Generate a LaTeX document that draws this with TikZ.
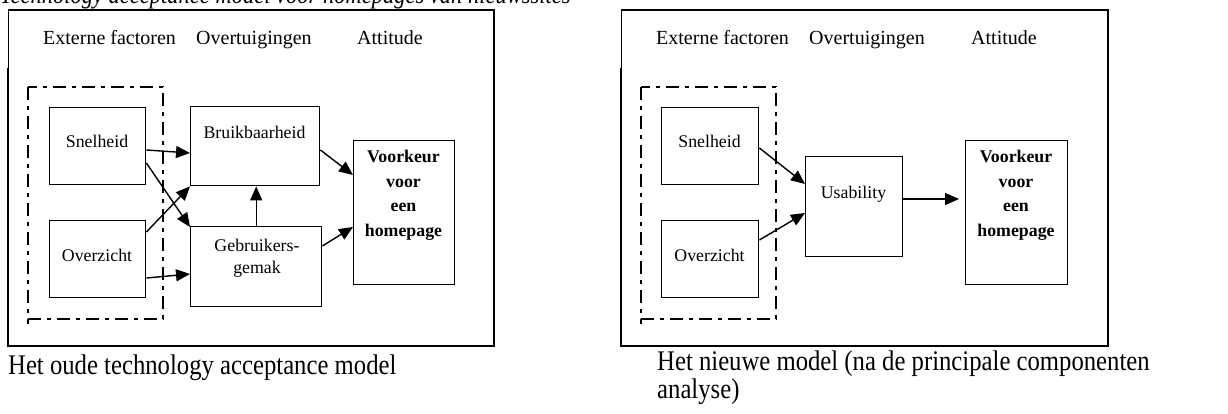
\documentclass[tikz,border=0pt]{standalone}
\usepackage{fontspec}
\setmainfont{Liberation Serif}
\usetikzlibrary{arrows.meta}
\newcommand{\tallcap}[1]{\scalebox{1}[1.15]{#1}}
\tikzset{
  panel/.style={draw, line width=2.4pt},
  dashbox/.style={draw, line width=1.4pt, dash pattern=on 13pt off 6pt on 4pt off 6pt},
  box/.style={draw, line width=1.4pt, rectangle, inner sep=0pt, anchor=north west},
  hdr/.style={anchor=base west, inner sep=0pt, font=\fontsize{20}{24}\selectfont},
  txt/.style={anchor=base, inner sep=0pt, font=\fontsize{17.8}{22}\selectfont},
  btxt/.style={anchor=north, inner sep=0pt, align=center, font=\fontsize{17.8}{24.5}\selectfont\bfseries},
  captxt/.style={anchor=base west, inner sep=0pt, font=\fontsize{24.7}{28}\selectfont},
  arr/.style={line width=1.4pt, -{Triangle[length=14pt,width=12pt]}},
}
\begin{document}
\begin{tikzpicture}[x=1pt,y=-1pt]
\useasboundingbox (0,0) rectangle (1228,414);
\clip (0,0) rectangle (1228,414);
% title (cut off at top)
\node[anchor=base west, inner sep=0pt, font=\fontsize{22.5}{26}\selectfont\itshape] (title) at (0,3.5) {\tallcap{Technology acceptance model voor homepages van nieuwssites}};

% ---------- left panel ----------
\draw[panel] (8,68) -- (8,346) -- (494,346) -- (494,10) -- (8,10);
\draw[line width=1pt] (8,10) -- (8,68);
\node[hdr] (h1) at (43,45) {Externe factoren};
\node[hdr] (h2) at (196,45) {Overtuigingen};
\node[hdr] (h3) at (357,45) {Attitude};
\draw[dashbox] (28,87) rectangle (163,319);
\draw[line width=1.4pt] (28,319) -- (28,324);

\node[box, minimum width=96pt, minimum height=77pt] (sn) at (49,107) {};
\node[box, minimum width=96pt, minimum height=77pt] (ov) at (49,220) {};
\node[box, minimum width=129pt, minimum height=79pt] (br) at (190,106) {};
\node[box, minimum width=131pt, minimum height=80pt] (ge) at (190,226) {};
\node[box, minimum width=101pt, minimum height=144pt] (vk) at (353,140) {};

\node[txt] (snt) at (97,148) {Snelheid};
\node[txt] (ovt) at (97,261) {Overzicht};
\node[txt] (brt) at (254.5,139) {Bruikbaarheid};
\node[txt] (get1) at (257,251) {Gebruikers-};
\node[txt] (get2) at (257,273) {gemak};
\node[btxt] (vkt) at (403.5,150) {Voorkeur\\voor\\een\\homepage};

\draw[arr] ([yshift=-43pt]sn.north east) -- ([yshift=-47pt]br.north west);
\draw[arr] ([yshift=-56pt]sn.north east) -- ([yshift=-1pt]ge.north west);
\draw[arr] ([yshift=-12pt]ov.north east) -- (br.south west);
\draw[arr] ([yshift=-58pt]ov.north east) -- ([yshift=-48pt]ge.north west);
\draw[arr] (ge.north) -- (ge.north |- br.south);
\draw[arr] ([yshift=-44pt]br.north east) -- ([yshift=-35pt]vk.north west);
\draw[arr] ([yshift=-20pt]ge.north east) -- ([yshift=-87pt]vk.north west);

\node[captxt] (c1) at (8,374) {\tallcap{Het oude technology acceptance model}};

% ---------- right panel ----------
\draw[panel] (621,68) -- (621,346) -- (1108,346) -- (1108,10) -- (621,10);
\draw[line width=1pt] (621,10) -- (621,68);
\node[hdr] (rh1) at (656,45) {Externe factoren};
\node[hdr] (rh2) at (809,45) {Overtuigingen};
\node[hdr] (rh3) at (971,45) {Attitude};
\draw[dashbox] (641,87) rectangle (776,319);
\draw[line width=1.4pt] (641,319) -- (641,324);

\node[box, minimum width=97pt, minimum height=77pt] (sn2) at (661,107) {};
\node[box, minimum width=97pt, minimum height=77pt] (ov2) at (661,220) {};
\node[box, minimum width=97pt, minimum height=100pt] (us) at (805,156) {};
\node[box, minimum width=102pt, minimum height=144pt] (vk2) at (965,140) {};

\node[txt] (sn2t) at (709.5,148) {Snelheid};
\node[txt] (ov2t) at (709.5,261) {Overzicht};
\node[txt] (ust) at (853.5,198) {Usability};
\node[btxt] (vk2t) at (1016,150) {Voorkeur\\voor\\een\\homepage};

\draw[arr] ([yshift=-41pt]sn2.north east) -- ([yshift=-28pt]us.north west);
\draw[arr] ([yshift=-20pt]ov2.north east) -- ([yshift=-57pt]us.north west);
\coordinate (usend) at ([xshift=-6pt,yshift=-59pt]vk2.north west);
\draw[arr] ([yshift=-43pt]us.north east) -- (usend);

\node[captxt] (c2) at (657,370) {\tallcap{Het nieuwe model (na de principale componenten}};
\node[captxt] (c3) at (657,398) {\tallcap{analyse)}};
\end{tikzpicture}
\end{document}
